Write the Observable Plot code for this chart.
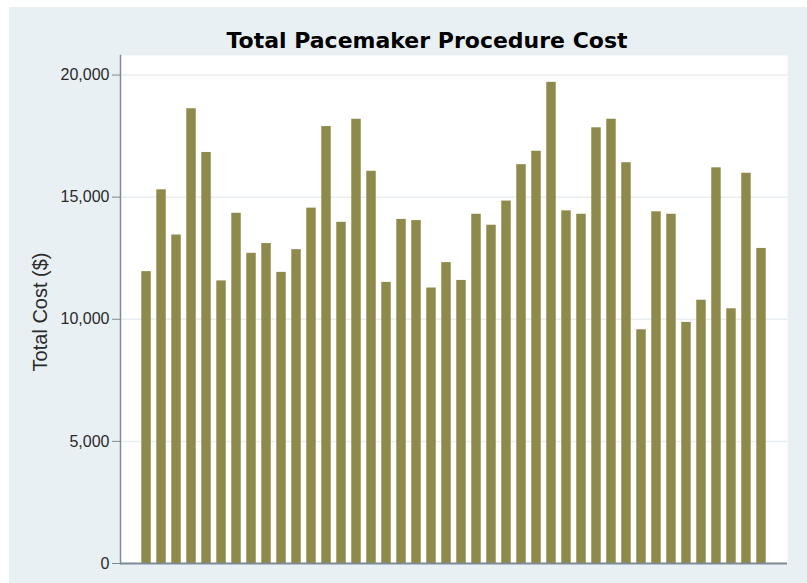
<!DOCTYPE html>
<html>
<head>
<meta charset="utf-8">
<script src="https://cdn.jsdelivr.net/npm/d3@7"></script>
<script src="https://cdn.jsdelivr.net/npm/@observablehq/plot@0.6"></script>
<style>
  html, body { margin: 0; padding: 0; background: #ffffff; }
  #chart { position: absolute; left: 9px; top: 7px; }
  #chart svg { display: block; }
</style>
</head>
<body>
<div id="chart"></div>
<script>
const procedures = [1,2,3,4,5,6,7,8,9,10,11,12,13,14,15,16,17,18,19,20,21,22,23,24,25,26,27,28,29,30,31,32,33,34,35,36,37,38,39,40,41,42];
const totalCost = [11950, 15300, 13450, 18620, 16830, 11570, 14340, 12700, 13100, 11920,
                   12850, 14550, 17890, 13970, 18190, 16060, 11510, 14090, 14040, 11280,
                   12320, 11590, 14300, 13850, 14840, 16330, 16880, 19700, 14440, 14300,
                   17840, 18190, 16410, 9570, 14400, 14300, 9870, 10780, 16200, 10430,
                   15980, 12900];
const yTicks = [0, 5000, 10000, 15000, 20000];
const titleText = "Total Pacemaker Procedure Cost";
const yLabel = "Total Cost ($)";

const data = procedures.map((p, i) => ({procedure: p, cost: totalCost[i]}));

const axisColor = "#7f8a93";
const chart = Plot.plot({
  width: 798,
  height: 576,
  marginLeft: 111,
  marginRight: 20,
  marginTop: 48,
  marginBottom: 20,
  style: {background: "#e9f0f3", fontFamily: "'Liberation Sans', Arial, sans-serif", color: "#333"},
  x: {domain: procedures, paddingInner: 0.37, paddingOuter: 1.42, axis: null},
  y: {domain: [0, 20800], ticks: yTicks},
  marks: [
    Plot.frame({fill: "white", stroke: "none"}),
    Plot.gridY(yTicks, {stroke: "#e8eef1", strokeOpacity: 1, strokeWidth: 1.5}),
    Plot.barY(data, {x: "procedure", y: "cost", fill: "#8d8a4b"}),
    Plot.axisY(yTicks, {tickFormat: d3.format(","), tickSize: 8, tickPadding: 3, fontSize: 16, stroke: axisColor, color: "#2a2a2a", label: null}),
    Plot.frame({anchor: "left", stroke: axisColor, strokeWidth: 1.5}),
    Plot.ruleY([0], {stroke: axisColor, strokeWidth: 2}),
    Plot.text([titleText], {frameAnchor: "top", lineAnchor: "bottom", dx: -27, dy: -8, fontSize: 22, fontWeight: "bold", fontFamily: "'DejaVu Sans', Verdana, sans-serif", fill: "#000"}),
    Plot.text([yLabel], {y: [10300], frameAnchor: "left", textAnchor: "middle", dx: -80, rotate: -90, fontSize: 20, fill: "#2a2a2a"})
  ]
});
document.getElementById("chart").appendChild(chart);
</script>
</body>
</html>
